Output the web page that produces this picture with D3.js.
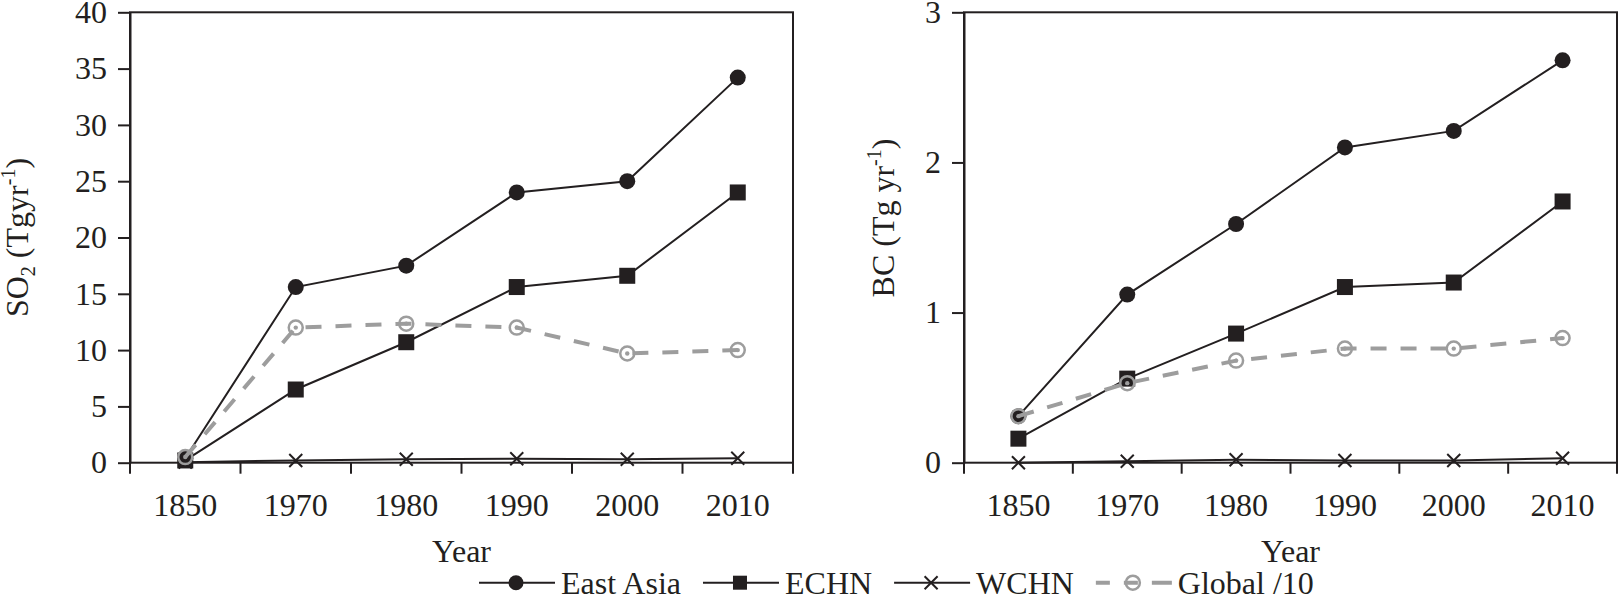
<!DOCTYPE html>
<html>
<head>
<meta charset="utf-8">
<script src="https://cdn.jsdelivr.net/npm/d3@7"></script>
<style>
  body { margin: 0; background: #fff; }
  text { font-family: "Liberation Serif", "DejaVu Serif", serif; fill: #231f20; }
</style>
</head>
<body>
<svg id="chart" width="1618" height="595"></svg>
<script>
// emissions by region
var years = ["1850", "1970", "1980", "1990", "2000", "2010"];

var so2EastAsia = [0.4, 15.6, 17.5, 24.0, 25.0, 34.2];
var so2ECHN     = [0.2, 6.5, 10.7, 15.6, 16.6, 24.0];
var so2WCHN     = [0.05, 0.2, 0.3, 0.35, 0.3, 0.4];
var so2Global   = [0.5, 12.0, 12.35, 12.0, 9.7, 10.0];

var bcEastAsia = [0.31, 1.12, 1.59, 2.10, 2.21, 2.68];
var bcECHN     = [0.16, 0.56, 0.86, 1.17, 1.20, 1.74];
var bcWCHN     = [0.0, 0.01, 0.02, 0.015, 0.015, 0.03];
var bcGlobal   = [0.31, 0.53, 0.68, 0.76, 0.76, 0.83];

var so2Ticks = [0, 5, 10, 15, 20, 25, 30, 35, 40];
var bcTicks = [0, 1, 2, 3];

var seriesNames = ["East Asia", "ECHN", "WCHN", "Global /10"];
var seriesMarks = ["circle", "square", "cross", "open"];

var ink = "#231f20";
var grey = "#9d9d9d";

var svg = d3.select("#chart");
svg.append("rect").attr("width", 1618).attr("height", 595).attr("fill", "#fff");

function drawPanel(opt) {
    var w = opt.x1 - opt.x0;
    var h = 462.7 - 12.3;
    var g = svg.append("g").attr("transform", "translate(" + opt.x0 + ",12.3)");

    var x = d3.scaleBand().domain(years).range([0, w]);
    var y = d3.scaleLinear().domain([0, opt.ticks[opt.ticks.length - 1]]).range([h, 0]);
    var cx = function(i) { return x(years[i]) + x.bandwidth() / 2; };

    // frame
    g.append("rect").attr("width", w).attr("height", h)
        .attr("fill", "none").attr("stroke", ink).attr("stroke-width", 2);

    // y axis
    var ya = g.append("g").call(d3.axisLeft(y).tickValues(opt.ticks)
        .tickSize(12).tickSizeOuter(0).tickPadding(11).tickFormat(d3.format("d")));
    ya.select(".domain").attr("stroke", ink).attr("stroke-width", 2);
    ya.selectAll(".tick line").attr("stroke", ink).attr("stroke-width", 2);
    ya.selectAll(".tick text").style("font-size", "32px").attr("fill", ink)
        .attr("font-family", "Liberation Serif");

    // x axis: labels at band centres, ticks at band edges
    var xa = g.append("g").attr("transform", "translate(0," + h + ")")
        .call(d3.axisBottom(x).tickSize(0).tickPadding(31));
    xa.select(".domain").remove();
    xa.selectAll(".tick text").style("font-size", "32px").attr("fill", ink)
        .attr("font-family", "Liberation Serif");
    var edges = years.map(function(d) { return x(d); }).concat([w]);
    g.selectAll(".edge").data(edges).enter().append("line")
        .attr("x1", function(d) { return d; }).attr("x2", function(d) { return d; })
        .attr("y1", h).attr("y2", h + 11)
        .attr("stroke", ink).attr("stroke-width", 2);

    g.append("text").attr("x", w / 2).attr("y", 562 - 12.3)
        .attr("text-anchor", "middle").style("font-size", "32px").text("Year");

    // y title
    var t = g.append("text")
        .attr("transform", "translate(" + (opt.titleX - opt.x0) + "," + (opt.titleY - 12.3) + ") rotate(-90)")
        .attr("text-anchor", "middle").style("font-size", "32px");
    opt.title.forEach(function(p) {
        var s = t.append("tspan").text(p.t);
        if (p.sub) s.style("font-size", "20px").attr("dy", 7);
        if (p.sup) s.style("font-size", "20px").attr("dy", -13);
        if (p.back) s.attr("dy", p.back);
    });

    var line = d3.line()
        .x(function(d, i) { return cx(i); })
        .y(function(d) { return y(d); });

    // black series
    [opt.data[0], opt.data[1], opt.data[2]].forEach(function(vals, k) {
        g.append("path").datum(vals).attr("d", line)
            .attr("fill", "none").attr("stroke", ink).attr("stroke-width", 2);
        vals.forEach(function(v, i) {
            drawMark(g, seriesMarks[k], cx(i), y(v), false);
        });
    });

    // global /10, dashed grey on top
    g.append("path").datum(opt.data[3]).attr("d", line)
        .attr("fill", "none").attr("stroke", grey).attr("stroke-width", 4)
        .attr("stroke-dasharray", "16,14");
    opt.data[3].forEach(function(v, i) {
        drawMark(g, "open", cx(i), y(v), false);
    });
}

function drawMark(g, type, px, py, legend) {
    if (type === "circle") {
        g.append("circle").attr("cx", px).attr("cy", py).attr("r", legend ? 7.5 : 8).attr("fill", ink);
    } else if (type === "square") {
        var s = legend ? 14 : 16;
        g.append("rect").attr("x", px - s / 2).attr("y", py - s / 2)
            .attr("width", s).attr("height", s).attr("fill", ink);
    } else if (type === "cross") {
        var c = 6.5;
        g.append("path")
            .attr("d", "M" + (px - c) + "," + (py - c) + "L" + (px + c) + "," + (py + c) +
                       "M" + (px - c) + "," + (py + c) + "L" + (px + c) + "," + (py - c))
            .attr("stroke", ink).attr("stroke-width", 2);
    } else {
        g.append("circle").attr("cx", px).attr("cy", py).attr("r", 7)
            .attr("fill", "none").attr("stroke", grey).attr("stroke-width", 2.5);
        if (!legend) {
            g.append("circle").attr("cx", px).attr("cy", py).attr("r", 2.2).attr("fill", grey);
        }
    }
}

drawPanel({
    x0: 130, x1: 793, ticks: so2Ticks,
    data: [so2EastAsia, so2ECHN, so2WCHN, so2Global],
    titleX: 28, titleY: 237.5,
    title: [{ t: "SO" }, { t: "2", sub: true }, { t: " (Tgyr", back: -7 }, { t: "-1", sup: true }, { t: ")", back: 13 }]
});

drawPanel({
    x0: 964, x1: 1617, ticks: bcTicks,
    data: [bcEastAsia, bcECHN, bcWCHN, bcGlobal],
    titleX: 894, titleY: 218,
    title: [{ t: "BC (Tg yr" }, { t: "-1", sup: true }, { t: ")", back: 13 }]
});

// legend
var lg = svg.append("g");
var lx = 479, ly = 582.7;
seriesNames.forEach(function(name, k) {
    var isGlobal = seriesMarks[k] === "open";
    lg.append("line").attr("x1", lx).attr("x2", lx + 76).attr("y1", ly).attr("y2", ly)
        .attr("stroke", isGlobal ? grey : ink)
        .attr("stroke-width", isGlobal ? 4 : 2)
        .attr("stroke-dasharray", isGlobal ? "14,14,14,14,20" : null);
    drawMark(lg, seriesMarks[k], lx + 37, ly, true);
    var txt = lg.append("text").attr("x", lx + 82).attr("y", 593.5)
        .style("font-size", "32px").text(name);
    lx = lx + 82 + txt.node().getComputedTextLength() + 22;
});
</script>
</body>
</html>
